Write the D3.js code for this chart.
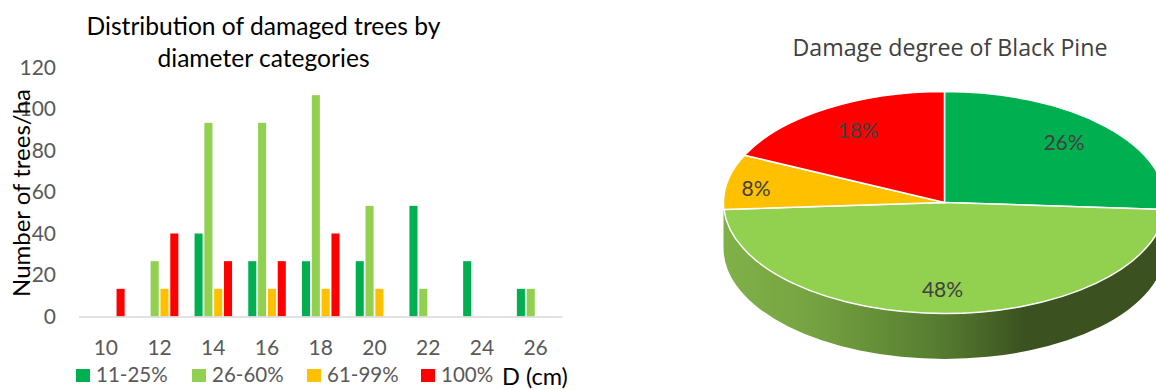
<!DOCTYPE html>
<html><head><meta charset="utf-8"><script src="https://cdn.jsdelivr.net/npm/d3@7"></script>
<style>html,body{margin:0;padding:0;background:#fff;overflow:hidden}svg{display:block}text{font-family:Lato,sans-serif}</style></head>
<body><svg id="c" width="1156" height="390"></svg>
<script>
const categories=["10","12","14","16","18","20","22","24","26"];
const seriesNames=["11-25%","26-60%","61-99%","100%"];
const seriesColors=["#00b050","#92d050","#ffc000","#ff0000"];
const s1=[0,0,40,26.67,26.67,26.67,53.33,26.67,13.33];
const s2=[0,26.67,93.33,93.33,106.67,53.33,13.33,0,13.33];
const s3=[0,13.33,13.33,13.33,13.33,13.33,0,0,0];
const s4=[13.33,40,26.67,26.67,40,0,0,0,0];
const series=[s1,s2,s3,s4];
const yTicks=[0,20,40,60,80,100,120];
const pieLabels=["26%","48%","8%","18%"];
const pieValues=[26,48,8,18];
const pieColors=["#00b050","#92d050","#ffc000","#ff0000"];

const svg=d3.select("#c");
const gray="#595959";
const x0=d3.scaleBand().domain(categories).range([79,562.5]);
const x1=d3.scaleBand().domain(d3.range(4)).range([8.1,x0.bandwidth()-8.1]).paddingInner(0.18);
const y=d3.scaleLinear().domain([0,120]).range([316.5,67.5]);

// bars
series.forEach((vals,i)=>{
  svg.append("g").selectAll("rect").data(vals.map((v,j)=>({v,c:categories[j]})).filter(d=>d.v>0)).join("rect")
    .attr("x",d=>x0(d.c)+x1(i)).attr("width",x1.bandwidth())
    .attr("y",d=>y(d.v)).attr("height",d=>y(0)-y(d.v)).attr("fill",seriesColors[i]);
});
svg.append("line").attr("x1",x0.range()[0]).attr("x2",x0.range()[1]).attr("y1",y(0)+0.5).attr("y2",y(0)+0.5).attr("stroke","#d9d9d9").attr("stroke-width",1.5);

// axes
svg.append("g").selectAll("text").data(yTicks).join("text")
  .attr("x",56).attr("y",d=>y(d)+7).attr("text-anchor","end").attr("font-size",21).attr("fill",gray).text(d=>d);
svg.append("g").selectAll("text").data(categories).join("text")
  .attr("x",d=>x0(d)+x0.bandwidth()/2).attr("y",355).attr("text-anchor","middle").attr("font-size",21).attr("fill",gray).text(d=>d);

svg.append("text").attr("transform","translate(30,193) rotate(-90)").attr("text-anchor","middle").attr("font-size",24).attr("fill","#000").text("Number of trees/ha");
svg.append("text").attr("x",502).attr("y",385).attr("font-size",23.5).attr("fill","#000").text("D (cm)");

svg.append("text").attr("x",263.5).attr("y",35).attr("text-anchor","middle").attr("font-size",24.6).attr("fill","#000").text("Distribution of damaged trees by");
svg.append("text").attr("x",263.5).attr("y",67).attr("text-anchor","middle").attr("font-size",24.6).attr("fill","#000").text("diameter categories");

// legend
const legendX=[76,192,307,421];
seriesNames.forEach((n,i)=>{
  svg.append("rect").attr("x",legendX[i]).attr("y",369).attr("width",14).attr("height",13).attr("fill",seriesColors[i]);
  svg.append("text").attr("x",legendX[i]+20).attr("y",382).attr("font-size",20.5).attr("fill",gray).text(n);
});

// pie
const cx=944.5,cy=202.5,rx=221,ry=111,depth=45.5;
svg.append("text").attr("x",950).attr("y",56).attr("text-anchor","middle").attr("font-size",23.2).attr("fill","#404040").attr("style","font-family:'Open Sans',sans-serif").text("Damage degree of Black Pine");

const defs=svg.append("defs");
const grad=defs.append("linearGradient").attr("id","wall").attr("gradientUnits","userSpaceOnUse").attr("x1",cx-rx).attr("x2",cx+rx).attr("y1",0).attr("y2",0);
[[0,"#80b148"],[0.2,"#75a341"],[0.5,"#557a2f"],[0.68,"#3b5220"],[1,"#3b5220"]].forEach(s=>grad.append("stop").attr("offset",s[0]).attr("stop-color",s[1]));

const arcs=d3.pie().sort(null)(pieValues);
// wall of the front slice
svg.append("path").attr("fill","url(#wall)")
  .attr("d",`M${cx-rx},${cy} L${cx-rx},${cy+depth} A${rx},${ry} 0 0 0 ${cx+rx},${cy+depth} L${cx+rx},${cy} Z`);

const arc=d3.arc().innerRadius(0).outerRadius(rx);
const g=svg.append("g").attr("transform",`translate(${cx},${cy}) scale(1,${ry/rx})`);
g.selectAll("path").data(arcs).join("path").attr("d",arc).attr("fill",(d,i)=>pieColors[i])
  .attr("stroke","#fff").attr("stroke-width",1.5).attr("vector-effect","non-scaling-stroke");

// data labels placed along each slice's mid-angle on the ellipse
const labelRx=[0.742,0,0.868,0.73];
const labelRy=[0.78,0.79,0.65,0.76];
svg.append("g").selectAll("text").data(arcs).join("text")
  .attr("x",(d,i)=>cx+labelRx[i]*rx*Math.sin((d.startAngle+d.endAngle)/2)-(i===1?2:0))
  .attr("y",(d,i)=>cy-labelRy[i]*ry*Math.cos((d.startAngle+d.endAngle)/2)+7)
  .attr("text-anchor","middle").attr("font-size",21).attr("fill","#404040").text((d,i)=>pieLabels[i]);
</script></body></html>
